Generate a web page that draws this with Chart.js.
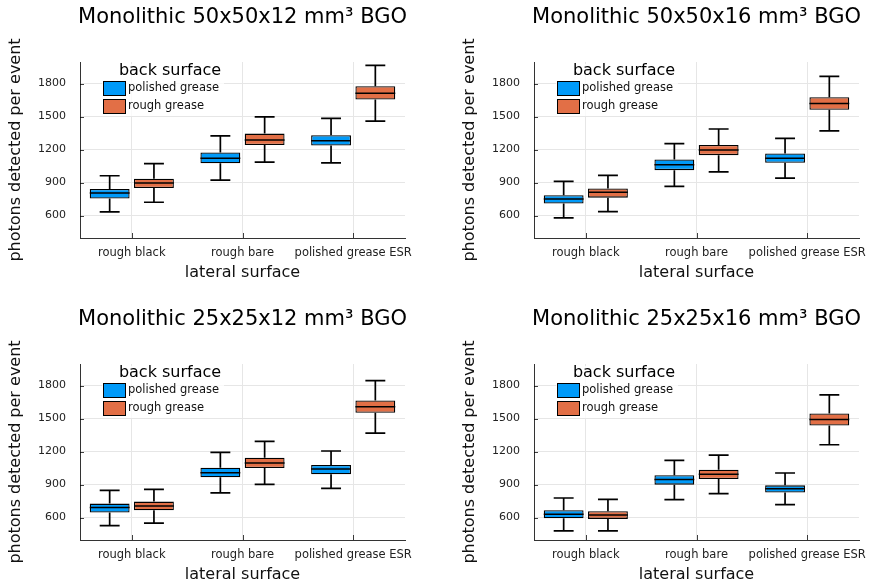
<!DOCTYPE html>
<html>
<head>
<meta charset="utf-8">
<script src="https://cdn.jsdelivr.net/npm/chart.js@4.4.1/dist/chart.umd.min.js"></script>
<style>
  html, body { margin: 0; padding: 0; background: #fff; }
  #wrap { position: relative; width: 870px; height: 587px; overflow: hidden; }
  .panel { position: absolute; width: 416px; height: 285px; }
</style>
</head>
<body>
<div id="wrap">
  <div class="panel" style="left:0;top:0"><canvas id="c1" width="416" height="285"></canvas></div>
  <div class="panel" style="left:454px;top:0"><canvas id="c2" width="416" height="285"></canvas></div>
  <div class="panel" style="left:0;top:302px"><canvas id="c3" width="416" height="285"></canvas></div>
  <div class="panel" style="left:454px;top:302px"><canvas id="c4" width="416" height="285"></canvas></div>
</div>
<script>
'use strict';

// ── DATA ──────────────────────────────────────────────────────────
const CATEGORIES   = ['rough black', 'rough bare', 'polished grease ESR'];
const SERIES_NAMES = ['polished grease', 'rough grease'];
const Y_TICKS      = [600, 900, 1200, 1500, 1800];
const TITLES = [
  'Monolithic 50x50x12 mm³ BGO',
  'Monolithic 50x50x16 mm³ BGO',
  'Monolithic 25x25x12 mm³ BGO',
  'Monolithic 25x25x16 mm³ BGO'
];

// [lower whisker, q1, median, q3, upper whisker] for each lateral surface
const A_POLISHED = [[633, 754, 805, 841, 962], [923, 1076, 1122, 1173, 1324], [1079, 1236, 1281, 1330, 1483]];
const A_ROUGH    = [[721, 850, 895, 935, 1073], [1085, 1242, 1287, 1345, 1498], [1459, 1655, 1712, 1776, 1966]];
const B_POLISHED = [[579, 709, 751, 784, 911], [865, 1013, 1061, 1110, 1254], [941, 1079, 1122, 1164, 1302]];
const B_ROUGH    = [[636, 763, 811, 847, 965], [998, 1149, 1197, 1242, 1387], [1369, 1562, 1619, 1676, 1866]];
const C_POLISHED = [[527, 645, 691, 727, 848], [824, 966, 1008, 1053, 1192], [866, 993, 1041, 1078, 1205]];
const C_ROUGH    = [[549, 667, 706, 745, 857], [902, 1050, 1096, 1144, 1292], [1368, 1552, 1607, 1664, 1845]];
const D_POLISHED = [[479, 594, 630, 667, 778], [763, 899, 945, 984, 1120], [718, 827, 863, 893, 1005]];
const D_ROUGH    = [[479, 588, 624, 657, 766], [818, 951, 993, 1035, 1168], [1262, 1437, 1492, 1546, 1715]];

const PANELS = [
  ['c1', TITLES[0], A_POLISHED, A_ROUGH],
  ['c2', TITLES[1], B_POLISHED, B_ROUGH],
  ['c3', TITLES[2], C_POLISHED, C_ROUGH],
  ['c4', TITLES[3], D_POLISHED, D_ROUGH]
];

// ── STYLE ─────────────────────────────────────────────────────────
const FONT    = "'DejaVu Sans', sans-serif";
const COLORS  = ['#009af9', '#e26f46'];
const DODGE   = 0.2;
const X_MIN = -0.468, X_MAX = 2.468;
const Y_MIN = 396,    Y_MAX = 1996;

// ── PLUGINS ───────────────────────────────────────────────────────
const innerTicks = {
  id: 'innerTicks',
  beforeDatasetsDraw(chart) {
    const { ctx, chartArea: a, scales: { x, y } } = chart;
    ctx.save();
    ctx.strokeStyle = 'rgba(0,0,0,0.75)';
    ctx.lineWidth = 1;
    ctx.beginPath();
    y.ticks.forEach(t => {
      const py = Math.round(y.getPixelForValue(t.value)) + 0.5;
      ctx.moveTo(a.left, py); ctx.lineTo(a.left + 4, py);
    });
    x.ticks.forEach(t => {
      const px = Math.round(x.getPixelForValue(t.value)) + 0.5;
      ctx.moveTo(px, a.bottom); ctx.lineTo(px, a.bottom - 5);
    });
    ctx.stroke();
    ctx.restore();
  }
};

const boxWhiskers = {
  id: 'boxWhiskers',
  afterDatasetsDraw(chart) {
    const { ctx, scales: { y } } = chart;
    ctx.save();
    ctx.strokeStyle = '#000';
    chart.data.datasets.forEach((ds, d) => {
      chart.getDatasetMeta(d).data.forEach((bar, i) => {
        const [lo, q1, med, q3, hi] = ds.data[i].stats;
        const cx = bar.x, half = bar.width / 2, cap = half / 2;
        const pLo = y.getPixelForValue(lo), pHi = y.getPixelForValue(hi);
        ctx.lineWidth = 1.7;
        ctx.beginPath();
        ctx.moveTo(cx, y.getPixelForValue(q3)); ctx.lineTo(cx, pHi);
        ctx.moveTo(cx, y.getPixelForValue(q1)); ctx.lineTo(cx, pLo);
        ctx.moveTo(cx - cap, pHi); ctx.lineTo(cx + cap, pHi);
        ctx.moveTo(cx - cap, pLo); ctx.lineTo(cx + cap, pLo);
        ctx.stroke();
        const pMed = y.getPixelForValue(med);
        ctx.lineWidth = 1.5;
        ctx.beginPath();
        ctx.moveTo(cx - half, pMed); ctx.lineTo(cx + half, pMed);
        ctx.stroke();
      });
    });
    ctx.restore();
  }
};

const panelDecor = {
  id: 'panelDecor',
  afterDraw(chart, args, opts) {
    const { ctx, chartArea: a } = chart;
    ctx.save();
    // title
    ctx.fillStyle = '#000';
    ctx.font = '21px ' + FONT;
    ctx.textAlign = 'center';
    ctx.textBaseline = 'middle';
    ctx.fillText(opts.title, (a.left + a.right) / 2, 18);

    // legend inside the plot
    ctx.fillStyle = 'rgba(255,255,255,0.8)';
    ctx.fillRect(a.left + 22, a.top + 2, 122, 52);
    ctx.fillStyle = '#000';
    ctx.font = '16px ' + FONT;
    ctx.fillText('back surface', a.left + 90, a.top + 9);
    ctx.textAlign = 'left';
    ctx.font = '11.5px ' + FONT;
    chart.data.datasets.forEach((ds, i) => {
      const yy = a.top + 19 + i * 18;
      ctx.fillStyle = ds.backgroundColor;
      ctx.fillRect(a.left + 23, yy, 23, 15);
      ctx.strokeStyle = '#000';
      ctx.lineWidth = 1;
      ctx.strokeRect(a.left + 23.5, yy + 0.5, 22, 14);
      ctx.fillStyle = '#111';
      ctx.fillText(ds.label, a.left + 48, yy + 7.5);
    });
    ctx.restore();
  }
};

// ── CHART FACTORY ─────────────────────────────────────────────────
function makeDataset(stats, s) {
  return {
    label: SERIES_NAMES[s],
    data: stats.map((b, i) => ({ x: i + (s ? DODGE : -DODGE), y: [b[1], b[3]], stats: b })),
    backgroundColor: COLORS[s],
    borderColor: '#000',
    borderWidth: 1.3,
    borderSkipped: false,
    grouped: false,
    categoryPercentage: 1,
    barPercentage: 0.9
  };
}

function createBoxPanel(canvasId, title, polished, rough) {
  const ctx = document.getElementById(canvasId).getContext('2d');
  return new Chart(ctx, {
    type: 'bar',
    data: { datasets: [makeDataset(polished, 0), makeDataset(rough, 1)] },
    plugins: [innerTicks, boxWhiskers, panelDecor],
    options: {
      responsive: false,
      animation: false,
      layout: { padding: { top: 62, right: 11, left: 0, bottom: 0 } },
      plugins: {
        legend: { display: false },
        tooltip: { enabled: false },
        panelDecor: { title }
      },
      scales: {
        x: {
          type: 'linear',
          offset: false,
          min: X_MIN, max: X_MAX,
          afterBuildTicks: s => { s.ticks = CATEGORIES.map((_, i) => ({ value: i })); },
          afterFit: s => { s.height = 47; s.paddingLeft = 0; s.paddingRight = 0; },
          grid: { color: '#e6e6e6', drawTicks: false, offset: false },
          border: { color: '#333', width: 1 },
          ticks: {
            callback: v => CATEGORIES[v],
            autoSkip: false, minRotation: 0, maxRotation: 0,
            padding: 8, color: '#222',
            font: { family: FONT, size: 11.5 }
          },
          title: {
            display: true, text: 'lateral surface', color: '#111',
            font: { family: FONT, size: 16 }, padding: { top: 0, bottom: 3 }
          }
        },
        y: {
          min: Y_MIN, max: Y_MAX,
          afterBuildTicks: s => { s.ticks = Y_TICKS.map(v => ({ value: v })); },
          afterFit: s => { s.width = 80; s.paddingTop = 0; s.paddingBottom = 0; },
          grid: { color: '#e6e6e6', drawTicks: false },
          border: { color: '#333', width: 1 },
          ticks: { callback: v => String(v), padding: 14, color: '#222', font: { family: FONT, size: 11 } },
          title: {
            display: true, text: 'photons detected per event', color: '#111',
            font: { family: FONT, size: 16 }, padding: { top: 6, bottom: 0 }
          }
        }
      }
    }
  });
}

PANELS.forEach(p => createBoxPanel(...p));
</script>
</body>
</html>
